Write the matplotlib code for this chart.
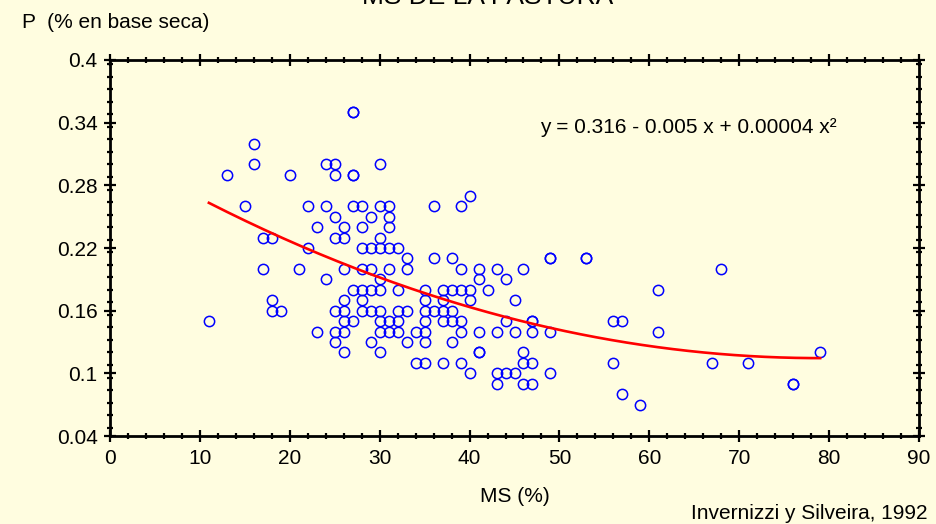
import numpy as np
import matplotlib.pyplot as plt
from matplotlib.ticker import MultipleLocator

plt.rcParams['font.family'] = ['Liberation Sans', 'DejaVu Sans']

# MS (%) and P (% en base seca), grouped by P value
ms_pts = {
    0.35: [27, 27],
    0.32: [16],
    0.30: [16, 24, 25, 30],
    0.29: [13, 20, 25, 27, 27],
    0.27: [40],
    0.26: [15, 22, 24, 27, 28, 30, 31, 36, 39],
    0.25: [25, 29, 31],
    0.24: [23, 26, 28, 31],
    0.23: [17, 18, 25, 26, 30],
    0.22: [22, 28, 29, 30, 31, 32],
    0.21: [33, 36, 38, 49, 49, 53, 53],
    0.20: [17, 21, 26, 28, 29, 31, 33, 39, 41, 43, 46, 68],
    0.19: [24, 30, 41, 44],
    0.18: [27, 28, 29, 30, 32, 35, 37, 38, 39, 40, 42, 61],
    0.17: [18, 26, 28, 35, 37, 40, 45],
    0.16: [18, 19, 25, 26, 28, 29, 30, 32, 33, 35, 36, 37, 38],
    0.15: [11, 26, 27, 30, 31, 32, 35, 37, 38, 39, 44, 47, 47, 56, 57],
    0.14: [23, 25, 26, 30, 31, 32, 34, 35, 39, 41, 43, 45, 47, 49, 61],
    0.13: [25, 29, 33, 35, 38],
    0.12: [26, 30, 41, 41, 46, 79],
    0.11: [34, 35, 37, 39, 46, 47, 56, 67, 71],
    0.10: [40, 43, 44, 45, 49],
    0.09: [43, 46, 47, 76, 76],
    0.08: [57],
    0.07: [59],
}
ms = np.array([x for p, xs in ms_pts.items() for x in xs], dtype=float)
p = np.array([p for p, xs in ms_pts.items() for x in xs])

xticks = list(range(0, 91, 10))
yticks = [0.04, 0.1, 0.16, 0.22, 0.28, 0.34, 0.4]
ytick_labels = ['0.04', '0.1', '0.16', '0.22', '0.28', '0.34', '0.4']

bg = '#fffde0'
fig = plt.figure(figsize=(9.37, 5.24), dpi=100, facecolor=bg)
ax = fig.add_axes([0.1174, 0.1679, 0.8634, 0.7176], facecolor=bg)

ax.plot(ms, p, 'o', mfc='none', mec='#0000ff', ms=7.4, mew=1.1, zorder=2)

# quadratic trend
coef = np.polyfit(ms, p, 2)
xs = np.linspace(ms.min(), ms.max(), 200)
ax.plot(xs, np.polyval(coef, xs), color='#ff0000', lw=1.9, zorder=3)

ax.set_xlim(0, 90)
ax.set_ylim(0.04, 0.4)
ax.set_xticks(xticks)
ax.set_yticks(yticks)
ax.set_yticklabels(ytick_labels)
ax.xaxis.set_minor_locator(MultipleLocator(2))
ax.yaxis.set_minor_locator(MultipleLocator(0.012))
ax.tick_params(which='both', direction='inout', top=True, right=True,
               labeltop=False, labelright=False, labelsize=15, width=1.6)
ax.tick_params(which='major', length=8, pad=5)
ax.tick_params(which='minor', length=5)
for s in ax.spines.values():
    s.set_linewidth(2)

ax.text(47.8, 0.335, 'y = 0.316 - 0.005 x + 0.00004 x²', fontsize=15, va='center')

fig.text(22 / 937, 1 - 22 / 524, 'P  (% en base seca)', fontsize=15, va='center')
fig.text(0.5 * (110 + 919) / 937, 1 - 496 / 524, 'MS (%)', fontsize=15,
         ha='center', va='center')
fig.text(928 / 937, 1 - 519 / 524, 'Invernizzi y Silveira, 1992', fontsize=15,
         ha='right', va='baseline')
fig.text(488 / 937, 1 - 4 / 524, 'MS DE LA PASTURA', fontsize=19,
         ha='center', va='baseline')

fig.savefig('out.png', dpi=100, facecolor=bg)
